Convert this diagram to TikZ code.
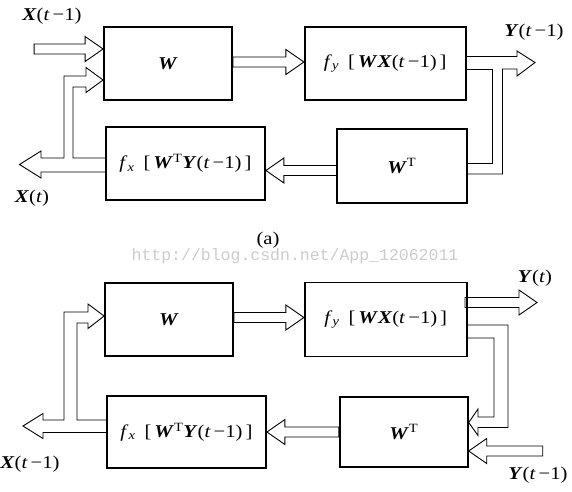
\documentclass[tikz,border=0pt]{standalone}
\usepackage{fontspec}
\setmainfont{Liberation Serif}[FakeStretch=1.15]
\setmonofont{Liberation Mono}
\usetikzlibrary{positioning}

\newcommand{\bv}[1]{\textbf{\textit{#1}}}
\newcommand{\tmo}{(\textit{t}\,−1)}
% hollow arrow: tip, angle, length
\newcommand{\harrow}[3]{%
\draw[hollow, shift={(#1)}, rotate=#2] (0,0) -- (-18,-12.5) -- (-18,-5) -- (-#3,-5) -- (-#3,5) -- (-18,5) -- (-18,12.5) -- cycle;}

\begin{document}
\begin{tikzpicture}[
x=1pt, y=-1pt,
box/.style={
draw,
line width=1.8pt,
inner sep=0pt,
minimum height=73pt,
font=\fontsize{18}{21}\selectfont
},
hollow/.style={draw, line width=0.9pt, line join=miter},
lbl/.style={inner sep=0pt, font=\fontsize{18}{21}\selectfont},
wmk/.style={inner sep=0pt, text=black!20, font=\ttfamily\fontsize{16.5}{18}\selectfont}
]
\useasboundingbox (0,0) rectangle (572,491);

% (a)
\node[box, minimum width=128pt] (W1) at (168,63.5) {\bv{W}};
\node[box, minimum width=161pt, right=71pt of W1] (fy1)
{\textit{f}\textsubscript{\textit{y}}\enspace[\,\bv{W}\bv{X}\tmo\,]};
\node[box, minimum width=159pt] (fx1) at (185.5,163.5)
{\textit{f}\textsubscript{\textit{x}}\enspace[\,\bv{W}\textsuperscript{T}\bv{Y}\tmo\,]};
\node[box, minimum width=130pt, minimum height=74pt, right=70pt of fx1, yshift=-2.5pt] (WT1)
{\bv{W}\textsuperscript{T}};

\coordinate (xin1) at (W1.west |- 0,49);
\coordinate (xo1) at (19.5,164.5);
\coordinate (yo1) at (535,62.5);

\harrow{xin1}{0}{69}
\harrow{fy1.west |- 0,62}{0}{71}
\harrow{fx1.east |- 0,170.5}{180}{71}

\draw[hollow] (fx1.west |- 0,172) -- (41,172) -- (41,178) -- (xo1) -- (41,151) -- (41,158)
-- (64,158) -- (64,76) -- (86,76) -- (86,67.5) -- (W1.west |- 0,80) -- (86,92.5) -- (86,87)
-- (73,87) -- (73,158) -- (fx1.west |- 0,158);

\draw[hollow] (fy1.east |- 0,56.5) -- (517,56.5) -- (517,51) -- (yo1) -- (517,76) -- (517,69)
-- (502.5,69) -- (502.5,174) -- (WT1.east |- 0,174);
\draw[hollow] (fy1.east |- 0,69) -- (492.5,69) -- (492.5,163) -- (WT1.east |- 0,163);

\node[lbl] (lx1) at (52,16) {\bv{X}\tmo};
\node[lbl] (lxt1) at (32,198) {\bv{X}(\textit{t})};
\node[lbl] (ly1) at (534,32) {\bv{Y}\tmo};
\node[lbl] (cap) at (268,240) {(a)};
\node[wmk] (url) at (295,256) {http://blog.csdn.net/App\_12062011};

% (b)
\node[box, minimum width=128pt] (W2) at (169,319.5) {\bv{W}};
\node[box, minimum width=162pt, minimum height=74pt, right=70pt of W2] (fy2)
{\textit{f}\textsubscript{\textit{y}}\enspace[\,\bv{W}\bv{X}\tmo\,]};
\node[box, minimum width=159pt, minimum height=72pt] (fx2) at (186.5,432)
{\textit{f}\textsubscript{\textit{x}}\enspace[\,\bv{W}\textsuperscript{T}\bv{Y}\tmo\,]};
\node[box, minimum width=128pt, minimum height=70pt, right=72pt of fx2] (WT2)
{\bv{W}\textsuperscript{T}};

\coordinate (xo2) at (23,426);
\coordinate (yo2) at (537,302.5);
\coordinate (yin2) at (WT2.east |- 0,451);

\harrow{fy2.west |- 0,317.5}{0}{70}
\harrow{fx2.east |- 0,432}{180}{72}
\harrow{yo2}{0}{72}
\harrow{yin2}{180}{74}

\draw[hollow] (fx2.west |- 0,432.5) -- (43,432.5) -- (43,438.5) -- (xo2) -- (43,413.5) -- (43,420)
-- (64,420) -- (64,312) -- (88,312) -- (88,304) -- (W2.west |- 0,316) -- (88,328.5) -- (88,323)
-- (77,323) -- (77,420) -- (fx2.west |- 0,420);

\draw[hollow] (fy2.east |- 0,325) -- (508,325) -- (508,427.5) -- (478,427.5) -- (478,435.5)
-- (WT2.east |- 0,422.5) -- (478,409) -- (478,417) -- (494,417) -- (494,338) -- (fy2.east |- 0,338);

\node[lbl] (yt2) at (535,278) {\bv{Y}(\textit{t})};
\node[lbl] (lx2) at (30,464) {\bv{X}\tmo};
\node[lbl] (ly2) at (538,475) {\bv{Y}\tmo};

\end{tikzpicture}
\end{document}
